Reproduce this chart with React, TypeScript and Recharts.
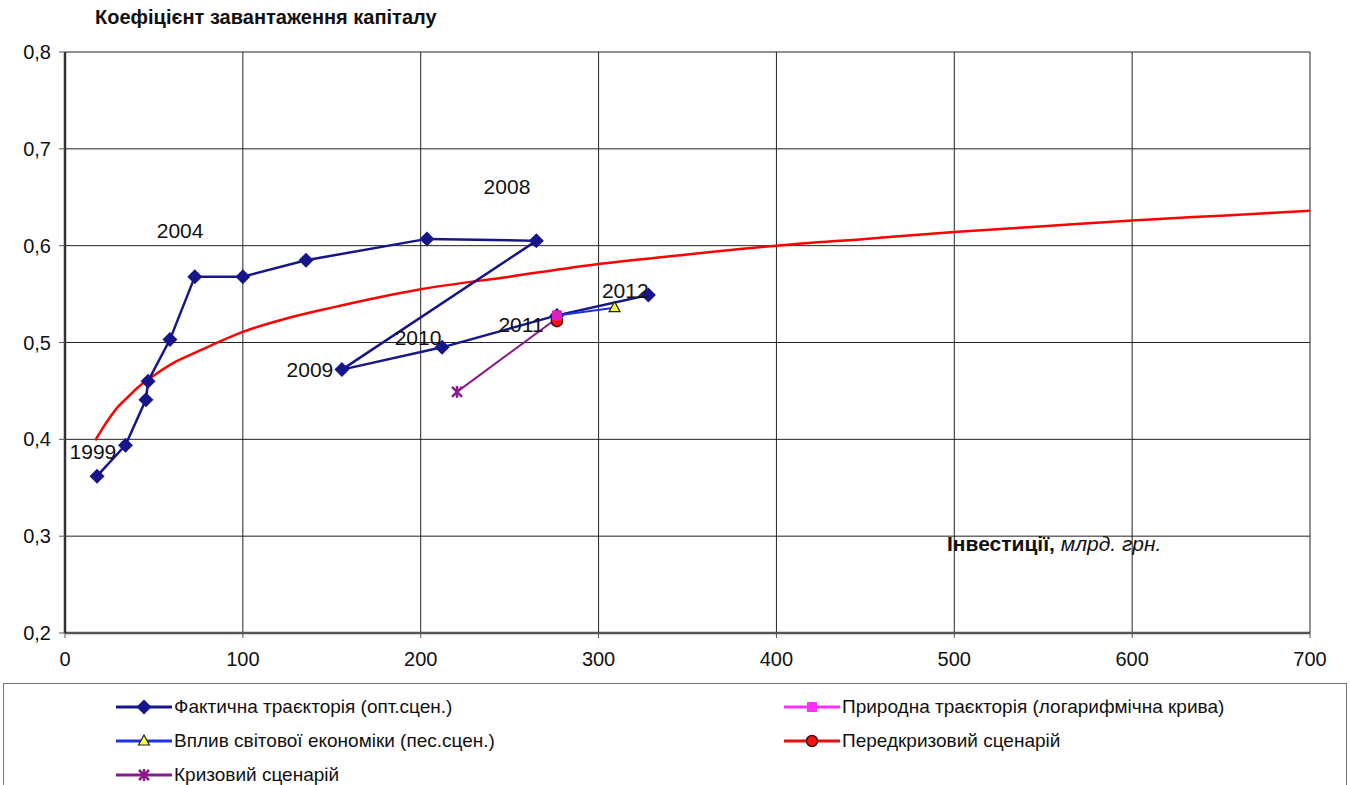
import React from 'react';
import { ComposedChart, Scatter, Line, XAxis, YAxis, CartesianGrid } from 'recharts';

// фактична траєкторія, 1999–2012
const years = [1999, 2000, 2001, 2002, 2003, 2004, 2005, 2006, 2007, 2008, 2009, 2010, 2011, 2012];
const investments = [18, 34, 45.5, 46.7, 59, 73, 100, 135.5, 203.5, 265, 155.7, 212, 276.6, 328];
const loadFactor = [0.362, 0.394, 0.441, 0.46, 0.503, 0.568, 0.568, 0.585, 0.607, 0.605, 0.472, 0.495, 0.528, 0.549];

// логарифмічна крива
const trendX = [17, 20, 25, 30, 35, 40, 50, 60, 75, 100, 125, 150, 200, 250, 300, 350, 400, 450, 500, 550, 600, 650, 700];
const trendY = [0.399, 0.408, 0.422, 0.434, 0.443, 0.452, 0.466, 0.478, 0.491, 0.511, 0.525, 0.536, 0.555, 0.568, 0.581, 0.591, 0.6, 0.607, 0.614, 0.62, 0.626, 0.631, 0.636];

// сценарії
const naturalX = [276.6];
const naturalY = [0.528];
const worldX = [276.6, 309];
const worldY = [0.528, 0.536];
const preCrisisX = [276.6];
const preCrisisY = [0.522];
const crisisX = [220.4, 276.6];
const crisisY = [0.449, 0.525];

// підписи років
const labelYears = ['1999', '2004', '2008', '2009', '2010', '2011', '2012'];
const labelX = [15.7, 64.7, 248.5, 137.7, 198.5, 256.4, 315];
const labelY = [0.387, 0.616, 0.661, 0.472, 0.505, 0.519, 0.554];

const xTicks = [0, 100, 200, 300, 400, 500, 600, 700];
const yTicks = [0.2, 0.3, 0.4, 0.5, 0.6, 0.7, 0.8];

const zip = (xs: number[], ys: number[]) => xs.map((x, i) => ({ x, y: ys[i] }));

const actualData = zip(investments, loadFactor).map((d, i) => ({ ...d, year: years[i] }));
const trendData = zip(trendX, trendY);
const naturalData = zip(naturalX, naturalY);
const worldData = zip(worldX, worldY);
const preCrisisData = zip(preCrisisX, preCrisisY);
const crisisData = zip(crisisX, crisisY);
const labelData = labelYears.map((t, i) => ({ x: labelX[i], y: labelY[i], text: t }));

const FONT = '"Liberation Sans", Arial, sans-serif';
const NAVY = '#16168a';

const Diamond = ({ cx, cy }: any) => {
  const r = 7.5;
  return <path d={`M${cx},${cy - r}L${cx + r},${cy}L${cx},${cy + r}L${cx - r},${cy}Z`} fill={NAVY} />;
};

const Square = ({ cx, cy }: any) => <rect x={cx - 5} y={cy - 5} width={10} height={10} fill="#e020c0" />;

const Triangle = ({ cx, cy }: any) => (
  <path d={`M${cx},${cy - 6}L${cx + 5.5},${cy + 4}L${cx - 5.5},${cy + 4}Z`} fill="#ffff40" stroke="#222" strokeWidth={1.2} />
);

const Circle = ({ cx, cy }: any) => <circle cx={cx} cy={cy} r={5.5} fill="#ff1010" stroke="#401010" strokeWidth={1.5} />;

const Cross = ({ cx, cy }: any) => (
  <g stroke="#8a1a8a" strokeWidth={2.5}>
    <line x1={cx - 5} y1={cy - 5} x2={cx + 5} y2={cy + 5} />
    <line x1={cx - 5} y1={cy + 5} x2={cx + 5} y2={cy - 5} />
    <line x1={cx} y1={cy - 6} x2={cx} y2={cy + 6} />
  </g>
);

const YearLabel = ({ cx, cy, payload }: any) => (
  <text x={cx} y={cy} textAnchor="middle" dominantBaseline="central" fontFamily={FONT} fontSize={21} fill="#111">
    {payload.text}
  </text>
);

const legendItems = [
  { name: 'Фактична траєкторія (опт.сцен.)', color: NAVY, marker: 'diamond' },
  { name: 'Природна траєкторія (логарифмічна крива)', color: '#ff30ff', marker: 'square' },
  { name: 'Вплив світової економіки (пес.сцен.)', color: '#2030e0', marker: 'triangle' },
  { name: 'Передкризовий сценарій', color: '#e01010', marker: 'circle' },
  { name: 'Кризовий сценарій', color: '#8a1a8a', marker: 'cross' },
];

function LegendIcon({ color, marker }: { color: string; marker: string }) {
  const cx = 28, cy = 8;
  let m: React.ReactNode = null;
  if (marker === 'diamond') m = <Diamond cx={cx} cy={cy} />;
  if (marker === 'square') m = <rect x={cx - 5} y={cy - 5} width={10} height={10} fill={color} />;
  if (marker === 'triangle') m = <Triangle cx={cx} cy={cy} />;
  if (marker === 'circle') m = <Circle cx={cx} cy={cy} />;
  if (marker === 'cross') m = <Cross cx={cx} cy={cy} />;
  return (
    <svg width={56} height={16} style={{ display: 'block' }}>
      <line x1={0} y1={cy} x2={56} y2={cy} stroke={color} strokeWidth={3} />
      {m}
    </svg>
  );
}

export default function App() {
  return (
    <div style={{ position: 'absolute', left: 0, top: 0, width: 1350, height: 785, background: '#fff', overflow: 'hidden' }}>
      <div style={{ position: 'absolute', left: 95, top: 6, fontFamily: FONT, fontWeight: 'bold', fontSize: 20, color: '#111' }}>
        Коефіцієнт завантаження капіталу
      </div>
      <ComposedChart width={1350} height={690} margin={{ top: 52, right: 40, bottom: 17, left: 0 }}>
        <CartesianGrid stroke="#222" strokeWidth={1} horizontalValues={yTicks} verticalValues={xTicks} />
        <XAxis
          type="number"
          dataKey="x"
          domain={[0, 700]}
          ticks={xTicks}
          height={40}
          tickSize={5}
          tickMargin={14}
          axisLine={{ stroke: '#555', strokeWidth: 2.5 }}
          tickLine={{ stroke: '#555' }}
          tick={{ fontFamily: FONT, fontSize: 20, fill: '#111' }}
          allowDataOverflow
        />
        <YAxis
          type="number"
          dataKey="y"
          domain={[0.2, 0.8]}
          ticks={yTicks}
          width={65}
          tickSize={6}
          tickMargin={8}
          axisLine={{ stroke: '#333', strokeWidth: 2.5 }}
          tickLine={{ stroke: '#555' }}
          tick={{ fontFamily: FONT, fontSize: 20, fill: '#111' }}
          tickFormatter={(v: number) => v.toFixed(1).replace('.', ',')}
          allowDataOverflow
        />
        <Line data={trendData} dataKey="y" type="monotone" stroke="#ff0000" strokeWidth={2.5} dot={false} isAnimationActive={false} />
        <Scatter
          data={actualData}
          dataKey="y"
          line={{ stroke: NAVY, strokeWidth: 2.5 }}
          lineType="joint"
          shape={Diamond}
          isAnimationActive={false}
        />
        <Scatter data={worldData} dataKey="y" line={{ stroke: '#2030e0', strokeWidth: 2 }} lineType="joint" shape={Triangle} isAnimationActive={false} />
        <Scatter data={crisisData} dataKey="y" line={{ stroke: '#8a1a8a', strokeWidth: 2 }} lineType="joint" shape={Cross} isAnimationActive={false} />
        <Scatter data={preCrisisData} dataKey="y" shape={Circle} isAnimationActive={false} />
        <Scatter data={naturalData} dataKey="y" shape={Square} isAnimationActive={false} />
        <Scatter data={labelData} dataKey="y" shape={YearLabel} isAnimationActive={false} />
      </ComposedChart>
      <div style={{ position: 'absolute', left: 947, top: 532, fontFamily: FONT, fontSize: 21, color: '#111' }}>
        <b>Інвестиції,</b> <i>млрд. грн.</i>
      </div>
      <div
        style={{
          position: 'absolute',
          left: 3,
          top: 683,
          width: 1342,
          height: 120,
          border: '1px solid #777',
          fontFamily: FONT,
          fontSize: 19,
          color: '#111',
        }}
      >
        {legendItems.map((it, i) => {
          const col = i % 2;
          const row = Math.floor(i / 2);
          return (
            <div
              key={it.name}
              style={{
                position: 'absolute',
                left: col === 0 ? 112 : 780,
                top: 12 + row * 34,
                display: 'flex',
                alignItems: 'center',
                gap: 2,
              }}
            >
              <LegendIcon color={it.color} marker={it.marker} />
              <span>{it.name}</span>
            </div>
          );
        })}
      </div>
    </div>
  );
}
